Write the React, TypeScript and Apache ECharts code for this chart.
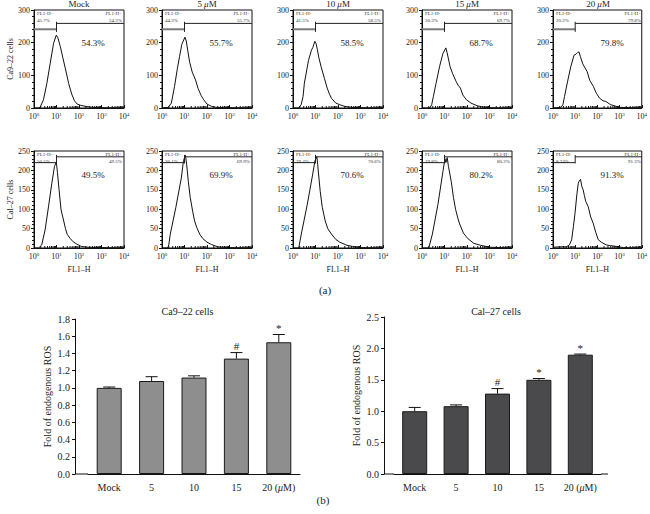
import React, { useEffect, useRef } from 'react';
import * as echarts from 'echarts';

// ---------- DATA ----------
const doseTitles = ['Mock', '5 {i|μ}M', '10 {i|μ}M', '15 {i|μ}M', '20 {i|μ}M'];

// Ca9-22 histograms: [FL1-H, count]
const ca922Mock = [[1,0],[1.6,0],[1.86,2],[2.63,25],[3.72,75],[5.25,137],[7.41,198],[9.77,223],[11.5,215],[14.8,188],[19,155],[24.5,122],[30,95],[34.7,75],[42,55],[49,40],[63,22],[83,12],[120,8],[200,5],[400,2],[1000,1],[10000,0]];
const ca922D5 = [[1,0],[1.9,2],[2.6,15],[3.6,66],[4.8,120],[6.0,157],[7.6,195],[10.5,217],[12,205],[14,175],[17,140],[22,110],[31,86],[40,60],[55,38],[72,25],[100,12],[160,5],[250,2],[1000,1],[10000,0]];
const ca922D10 = [[1,0],[1.8,0],[2.3,10],[2.8,35],[3.2,76],[4.9,146],[6.6,177],[7.6,185],[9.3,204],[10.5,198],[12,180],[14,155],[17.8,126],[25,90],[33,61],[42,42],[51,30],[80,15],[120,10],[200,5],[400,2],[1000,1],[10000,0]];
const ca922D15 = [[1,0],[2.2,0],[2.7,10],[3.2,35],[4.2,75],[6.0,126],[8.5,167],[11.5,184],[13,170],[15,150],[17.8,126],[23,105],[33,81],[40,70],[51,61],[65,40],[95,25],[150,15],[280,7],[500,3],[1000,1],[10000,0]];
const ca922D20 = [[1,0],[2.3,2],[2.8,10],[3.3,35],[4.5,80],[6.3,126],[8.9,162],[11,165],[13,170],[14.8,172],[17,158],[22,135],[34.7,111],[45,85],[66,66],[90,45],[126,30],[180,22],[240,20],[400,10],[560,7],[1000,2],[10000,0]];

// Cal-27 histograms
const cal27Mock = [[1,0],[1.6,0],[2.2,8],[3.1,46],[4.4,106],[6.2,167],[8.1,210],[9.8,222],[11,195],[13,150],[15.8,100],[17.5,88],[20,75],[25,50],[30,35],[40,25],[55,16],[80,10],[126,4],[250,2],[1000,1],[10000,0]];
const cal27D5 = [[1,0],[1.8,0],[2.0,8],[2.34,36],[4.1,104],[7.2,180],[9,225],[11,239],[12.5,215],[14.8,171],[18,130],[23,95],[28,70],[35,53],[48,35],[66,24],[100,15],[158,9],[300,3],[1000,1],[10000,0]];
const cal27D10 = [[1,0],[1.8,0],[2.34,36],[4.3,112],[7.4,188],[9.5,225],[11.5,235],[12.5,215],[16.2,146],[20,105],[27,70],[35,50],[51,36],[80,22],[120,15],[250,7],[440,4],[1000,1],[10000,0]];
const cal27D15 = [[1,0],[2.0,0],[2.9,36],[5.1,112],[8.5,197],[10.5,230],[11.5,220],[13.2,233],[15,210],[20,171],[25,130],[31,100],[40,75],[47,62],[70,38],[110,24],[200,12],[400,7],[1000,2],[10000,0]];
const cal27D20 = [[1,2],[2,3],[4,3],[5.5,8],[6.9,21],[8.3,55],[9.8,89],[12,140],[13.8,167],[15,172],[17.4,177],[20,158],[22.9,150],[26,135],[30,120],[38.9,106],[50,80],[64.6,64],[85,40],[110,21],[160,14],[250,8],[400,6],[720,4],[1500,1],[10000,0]];

const ca922Hists = [ca922Mock, ca922D5, ca922D10, ca922D15, ca922D20];
const cal27Hists = [cal27Mock, cal27D5, cal27D10, cal27D15, cal27D20];

const ca922NegPct = ['45.7%', '44.3%', '41.5%', '30.3%', '20.2%'];
const ca922PosPct = ['54.3%', '55.7%', '58.5%', '69.7%', '79.8%'];
const ca922BigPct = ['54.3%', '55.7%', '58.5%', '68.7%', '79.8%'];
const cal27NegPct = ['50.5%', '30.1%', '29.4%', '19.8%', '8.74%'];
const cal27PosPct = ['49.5%', '69.9%', '70.6%', '80.2%', '91.3%'];
const cal27BigPct = ['49.5%', '69.9%', '70.6%', '80.2%', '91.3%'];

// log-axis minor tick positions
const logMinorTicks = [2,3,4,5,6,7,8,9,20,30,40,50,60,70,80,90,200,300,400,500,600,700,800,900,2000,3000,4000,5000,6000,7000,8000,9000];

// gates: [split, negLevel, posLevel, tickLow, tickHigh]
const row1Gate = [10, 241, 259, 233, 264];
const row2Gate = [10, 220, 235, 218, 240];

const histYMax = [300, 250];
const histYStep = [100, 50];

const barCats = ['Mock', '5', '10', '15', '20 (μM)'];
const ca922Mean = [1.0, 1.08, 1.12, 1.34, 1.53];
const ca922Err = [0.01, 0.05, 0.02, 0.07, 0.09];
const ca922Sig = ['', '', '', '#', '*'];
const cal27Mean = [1.0, 1.08, 1.28, 1.5, 1.9];
const cal27Err = [0.06, 0.02, 0.08, 0.02, 0.01];
const cal27Sig = ['', '', '#', '*', '*'];

// ---------- LAYOUT ----------
const FONT = "'Liberation Serif', 'DejaVu Serif', serif";
const TXT = '#222222';
const LEFTS = [34, 162, 293, 422, 553];
const PW = 90;
const ROW_TOP = [10, 151];
const ROW_H = [98, 97];

function buildOption() {
  const grid: any[] = [];
  const xAxis: any[] = [];
  const yAxis: any[] = [];
  const series: any[] = [];
  const graphic: any[] = [];

  const rows = [
    { hists: ca922Hists, neg: ca922NegPct, pos: ca922PosPct, big: ca922BigPct, gate: row1Gate, name: 'Ca9–22 cells' },
    { hists: cal27Hists, neg: cal27NegPct, pos: cal27PosPct, big: cal27BigPct, gate: row2Gate, name: 'Cal–27 cells' },
  ];

  rows.forEach((row, r) => {
    row.hists.forEach((hist, p) => {
      const idx = grid.length;
      grid.push({
        left: LEFTS[p], top: ROW_TOP[r], width: PW, height: ROW_H[r],
        show: true, borderColor: '#111', borderWidth: 1, backgroundColor: 'transparent',
      });
      xAxis.push({
        type: 'log', logBase: 10, min: 1, max: 10000, gridIndex: idx,
        axisLine: { lineStyle: { color: '#111', width: 1 } },
        axisTick: { inside: true, length: 3, lineStyle: { color: '#111' } },
        splitLine: { show: false },
        axisLabel: {
          margin: 4, fontFamily: FONT, fontSize: 8, color: TXT,
          formatter: (v: number) => '10{s|' + Math.round(Math.log10(v)) + '}',
          rich: { s: { fontSize: 5, fontFamily: FONT, color: TXT, verticalAlign: 'top', lineHeight: 6 } },
        },
        name: r === 1 ? 'FL1–H' : '',
        nameLocation: 'middle', nameGap: 17,
        nameTextStyle: { fontFamily: FONT, fontSize: 8, color: TXT },
      });
      yAxis.push({
        type: 'value', min: 0, max: histYMax[r], interval: histYStep[r], gridIndex: idx,
        axisLine: { show: true, lineStyle: { color: '#111' } },
        axisTick: { show: true, length: 3, lineStyle: { color: '#111' } },
        minorTick: { show: true, splitNumber: 5, length: 2, lineStyle: { color: '#111' } },
        splitLine: { show: false },
        axisLabel: { margin: 4, fontFamily: FONT, fontSize: 8, color: TXT },
        name: p === 0 ? row.name : '',
        nameLocation: 'middle', nameGap: 16, nameRotate: 90,
        nameTextStyle: { fontFamily: FONT, fontSize: 8, color: TXT },
      });
      series.push({
        type: 'line', xAxisIndex: idx, yAxisIndex: idx, data: hist,
        showSymbol: false, symbol: 'none', smooth: false,
        lineStyle: { color: '#111', width: 1 }, z: 3,
      });
      // log minor ticks on x axis (inside)
      series.push({
        type: 'custom', xAxisIndex: idx, yAxisIndex: idx,
        data: logMinorTicks.map((v) => [v, 0]),
        encode: { x: 0, y: 1 }, silent: true, z: 5,
        renderItem: (_params: any, api: any) => {
          const pt = api.coord([api.value(0), 0]);
          return { type: 'line', shape: { x1: pt[0], y1: pt[1], x2: pt[0], y2: pt[1] - 2 }, style: { stroke: '#111', lineWidth: 1 } };
        },
      });
      const [split, negL, posL, tLo, tHi] = row.gate;
      series.push({
        type: 'line', xAxisIndex: idx, yAxisIndex: idx, data: [[1, negL], [split, negL]],
        showSymbol: false, symbol: 'none',
        lineStyle: { color: r === 0 ? '#7a7a7a' : '#222', width: r === 0 ? 2 : 1 }, z: 4,
      });
      series.push({
        type: 'line', xAxisIndex: idx, yAxisIndex: idx, data: [[split, posL], [10000, posL]],
        showSymbol: false, symbol: 'none', lineStyle: { color: '#222', width: 1 }, z: 4,
      });
      series.push({
        type: 'line', xAxisIndex: idx, yAxisIndex: idx, data: [[split, tLo], [split, tHi]],
        showSymbol: false, symbol: 'none', lineStyle: { color: '#222', width: 1 }, z: 4,
      });

      const left = LEFTS[p];
      const t0 = r === 0 ? 13 : 154;
      const t1 = r === 0 ? 20 : 161;
      const small = { fontFamily: FONT, fontSize: 5, fill: '#333333', verticalAlign: 'middle' };
      graphic.push({ type: 'text', x: left + 3, y: t0, style: { ...small, text: 'FL1-H-', align: 'left' } });
      graphic.push({ type: 'text', x: left + 3, y: t1, style: { ...small, text: row.neg[p], align: 'left' } });
      graphic.push({ type: 'text', x: left + PW - 2, y: t0, style: { ...small, text: 'FL1-H+', align: 'right' } });
      graphic.push({ type: 'text', x: left + PW - 2, y: t1, style: { ...small, text: row.pos[p], align: 'right' } });
      graphic.push({
        type: 'text', x: left + 59, y: r === 0 ? 43 : 175,
        style: { text: row.big[p], fontFamily: FONT, fontSize: 9, fill: TXT, align: 'center', verticalAlign: 'middle' },
      });
      if (r === 0) {
        graphic.push({
          type: 'text', x: left + PW / 2, y: 4,
          style: {
            text: doseTitles[p], fontFamily: FONT, fontSize: 9, fill: TXT, align: 'center', verticalAlign: 'middle',
            rich: { i: { fontStyle: 'italic', fontFamily: FONT, fontSize: 9, fill: TXT } },
          },
        });
      }
    });
  });

  // ---------- bar charts ----------
  const bars = [
    { mean: ca922Mean, err: ca922Err, sig: ca922Sig, max: 1.8, step: 0.2, color: '#8e8e8e',
      left: 88, width: 212, top: 319, height: 155, offset: 13, title: 'Ca9–22 cells', axisL: 75, axisR: 300 },
    { mean: cal27Mean, err: cal27Err, sig: cal27Sig, max: 2.5, step: 0.5, color: '#4a4a4c',
      left: 394, width: 207, top: 317, height: 157, offset: 10, title: 'Cal–27 cells', axisL: 384, axisR: 608 },
  ];
  bars.forEach((b) => {
    const idx = grid.length;
    grid.push({ left: b.left, top: b.top, width: b.width, height: b.height });
    xAxis.push({
      type: 'category', data: barCats, gridIndex: idx,
      axisLine: { lineStyle: { color: '#111' } },
      axisTick: { alignWithLabel: true, length: 3, lineStyle: { color: '#111' } },
      axisLabel: {
        margin: 8, fontFamily: FONT, fontSize: 10, color: TXT, interval: 0,
        formatter: (v: string) => v.replace('μ', '{i|μ}'),
        rich: { i: { fontStyle: 'italic', fontFamily: FONT, fontSize: 10, color: TXT } },
      },
    });
    yAxis.push({
      type: 'value', min: 0, max: b.max, interval: b.step, gridIndex: idx, offset: b.offset,
      axisLine: { show: true, lineStyle: { color: '#111' } },
      axisTick: { show: true, length: 3, lineStyle: { color: '#111' } },
      splitLine: { show: false },
      axisLabel: { margin: 5, fontFamily: FONT, fontSize: 10, color: TXT, formatter: (v: number) => v.toFixed(1) },
      name: 'Fold of endogenous ROS', nameLocation: 'middle', nameGap: 23, nameRotate: 90,
      nameTextStyle: { fontFamily: FONT, fontSize: 10, color: TXT },
    });
    series.push({
      type: 'bar', xAxisIndex: idx, yAxisIndex: idx, data: b.mean, barWidth: 25,
      itemStyle: { color: b.color, borderColor: '#1a1a1a', borderWidth: 1 }, z: 2,
    });
    const sigArr = b.sig;
    series.push({
      type: 'custom', xAxisIndex: idx, yAxisIndex: idx,
      data: b.mean.map((m, i) => [i, m, b.err[i]]),
      encode: { x: 0, y: 1 },
      z: 4,
      renderItem: (params: any, api: any) => {
        const i = api.value(0);
        const m = api.value(1);
        const e = api.value(2);
        const base = api.coord([i, m]);
        const top = api.coord([i, m + e]);
        const half = 6;
        const children: any[] = [
          { type: 'line', shape: { x1: base[0], y1: base[1], x2: top[0], y2: top[1] }, style: { stroke: '#111', lineWidth: 1 } },
          { type: 'line', shape: { x1: top[0] - half, y1: top[1], x2: top[0] + half, y2: top[1] }, style: { stroke: '#111', lineWidth: 1 } },
        ];
        const s = sigArr[params.dataIndex];
        if (s) {
          children.push({
            type: 'text', x: top[0], y: top[1] - 1,
            style: { text: s, fontFamily: FONT, fontSize: s === '*' ? 11 : 11, fill: TXT, align: 'center', verticalAlign: 'bottom' },
          });
        }
        return { type: 'group', children };
      },
    });
    graphic.push({
      type: 'line', shape: { x1: b.axisL, y1: b.top + b.height, x2: b.left, y2: b.top + b.height },
      style: { stroke: '#111', lineWidth: 1 },
    });
    if (b.axisR > b.left + b.width) {
      graphic.push({
        type: 'line', shape: { x1: b.left + b.width, y1: b.top + b.height, x2: b.axisR, y2: b.top + b.height },
        style: { stroke: '#111', lineWidth: 1 },
      });
    }
    graphic.push({
      type: 'text', x: (b.axisL + b.axisR) / 2, y: 311,
      style: { text: b.title, fontFamily: FONT, fontSize: 10, fill: TXT, align: 'center', verticalAlign: 'middle' },
    });
  });

  graphic.push({ type: 'text', x: 325, y: 290, style: { text: '(a)', fontFamily: FONT, fontSize: 11, fill: TXT, align: 'center', verticalAlign: 'middle' } });
  graphic.push({ type: 'text', x: 323, y: 500, style: { text: '(b)', fontFamily: FONT, fontSize: 11, fill: TXT, align: 'center', verticalAlign: 'middle' } });

  return {
    animation: false,
    backgroundColor: '#fff',
    textStyle: { fontFamily: FONT },
    grid, xAxis, yAxis, series, graphic,
  };
}

export default function App() {
  const ref = useRef<HTMLDivElement>(null);
  useEffect(() => {
    if (!ref.current) return;
    const chart = echarts.init(ref.current, undefined, { renderer: 'svg' });
    chart.setOption(buildOption() as any);
    return () => chart.dispose();
  }, []);
  return <div ref={ref} style={{ position: 'fixed', left: 0, top: 0, width: 650, height: 514, background: '#fff' }} />;
}
